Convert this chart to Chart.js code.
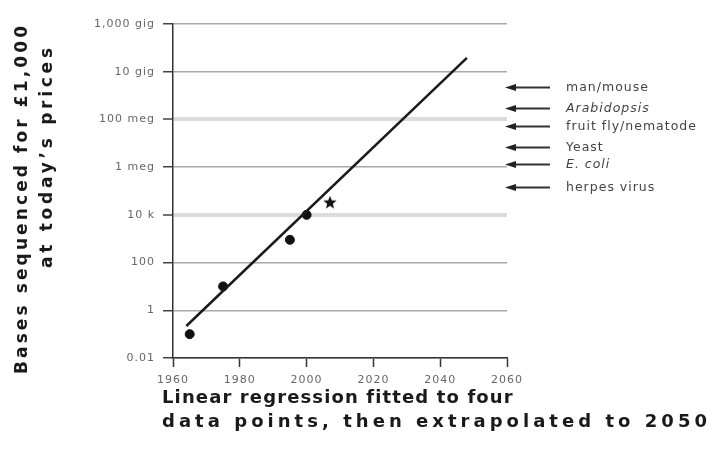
<!DOCTYPE html>
<html lang="en">
<head>
<meta charset="UTF-8">
<title>Sequencing cost trend</title>
<script src="https://cdn.jsdelivr.net/npm/chart.js"></script>
<style>
    html, body { margin: 0; padding: 0; background: #fff; }
    .wrap { width: 718px; height: 465px; position: relative; }
</style>
</head>
<body>
<div class="wrap"><canvas id="chart"></canvas></div>
<script>
// measured points (year, bases per £1,000)
const dotYears = [1965, 1975, 1995, 2000];
const dotValues = [0.1, 10, 900, 10000];
const starYears = [2007];
const starValues = [32000];
// regression line end points
const fitYears = [1964, 2048];
const fitValues = [0.22, 38000000000];

// y axis ticks
const yTickValues = [0.01, 1, 100, 1e4, 1e6, 1e8, 1e10, 1e12];
const yTickLabels = ['0.01', '1', '100', '10 k', '1 meg', '100 meg', '10 gig', '1,000 gig'];
const xTickStart = 1960, xTickEnd = 2060, xTickStep = 20;

// genome size markers on the right
const genomeNames = ['man/mouse', 'Arabidopsis', 'fruit fly/nematode', 'Yeast', 'E. coli', 'herpes virus'];
const genomeSizes = [2.3e9, 2.9e8, 5.2e7, 7e6, 1.3e6, 1.5e5];
const genomeItalic = [false, true, false, false, true, false];

const yTitle = ['Bases sequenced for \u00a31,000', 'at today\u2019s prices'];
const xTitle = ['Linear regression fitted to four', 'data points, then extrapolated to 2050'];

// filled star marker
function makeStar(r) {
    const c = document.createElement('canvas');
    c.width = c.height = r * 2 + 2;
    const g = c.getContext('2d');
    g.fillStyle = '#111';
    g.beginPath();
    for (let i = 0; i < 10; i++) {
        const rad = i % 2 === 0 ? r : r * 0.42;
        const a = -Math.PI / 2 + i * Math.PI / 5;
        const px = r + 1 + rad * Math.cos(a), py = r + 1 + rad * Math.sin(a);
        if (i === 0) g.moveTo(px, py); else g.lineTo(px, py);
    }
    g.closePath();
    g.fill();
    return c;
}

// draw text stretched to a given width with letter spacing
function spacedText(ctx, text, x, y, width, align) {
    ctx.letterSpacing = '0px';
    const w = ctx.measureText(text).width;
    const sp = (width - w) / (text.length - 1);
    ctx.letterSpacing = sp + 'px';
    ctx.textAlign = 'left';
    const start = align === 'center' ? x - width / 2 : x;
    ctx.fillText(text, start, y);
    ctx.letterSpacing = '0px';
}

const extras = {
    id: 'extras',
    beforeDraw(chart) {
        chart.ctx.letterSpacing = '1px';
    },
    afterDraw(chart) {
        const ctx = chart.ctx;
        const y = chart.scales.y;
        ctx.save();
        ctx.letterSpacing = '0px';

        // arrows and genome labels
        genomeSizes.forEach((v, i) => {
            const py = Math.round(y.getPixelForValue(v)) + 0.5;
            ctx.strokeStyle = '#333';
            ctx.lineWidth = 2;
            ctx.beginPath();
            ctx.moveTo(511, py);
            ctx.lineTo(550, py);
            ctx.stroke();
            ctx.fillStyle = '#222';
            ctx.beginPath();
            ctx.moveTo(505, py);
            ctx.lineTo(516, py - 3.5);
            ctx.lineTo(516, py + 3.5);
            ctx.closePath();
            ctx.fill();
            ctx.fillStyle = '#444';
            ctx.font = (genomeItalic[i] ? 'italic ' : '') + '12.5px "DejaVu Sans"';
            ctx.textBaseline = 'middle';
            ctx.textAlign = 'left';
            ctx.letterSpacing = '1px';
            ctx.fillText(genomeNames[i], 566, py);
            ctx.letterSpacing = '0px';
        });

        // y axis title, rotated
        ctx.fillStyle = '#1a1a1a';
        ctx.font = 'bold 17px "DejaVu Sans"';
        ctx.textBaseline = 'middle';
        ctx.save();
        ctx.translate(23, 200);
        ctx.rotate(-Math.PI / 2);
        spacedText(ctx, yTitle[0], 0, 0, 348, 'center');
        ctx.restore();
        ctx.save();
        ctx.translate(48, 158);
        ctx.rotate(-Math.PI / 2);
        spacedText(ctx, yTitle[1], 0, 0, 220, 'center');
        ctx.restore();

        // x axis title
        ctx.font = 'bold 18px "DejaVu Sans"';
        spacedText(ctx, xTitle[0], 162, 398, 350, 'left');
        spacedText(ctx, xTitle[1], 162, 422, 545, 'left');
        ctx.restore();
    }
};

const thick = [1e4, 1e8];

new Chart(document.getElementById('chart'), {
    type: 'scatter',
    data: {
        datasets: [
            {
                label: 'fit',
                data: fitYears.map((yr, i) => ({ x: yr, y: fitValues[i] })),
                showLine: true,
                borderColor: '#1a1a1a',
                borderWidth: 2.5,
                pointRadius: 0
            },
            {
                label: 'points',
                data: dotYears.map((yr, i) => ({ x: yr, y: dotValues[i] })),
                backgroundColor: '#111',
                borderColor: '#111',
                pointRadius: 4.5
            },
            {
                label: 'latest',
                data: starYears.map((yr, i) => ({ x: yr, y: starValues[i] })),
                pointStyle: makeStar(7)
            }
        ]
    },
    options: {
        responsive: true,
        maintainAspectRatio: false,
        devicePixelRatio: 1,
        animation: false,
        layout: { padding: { left: 0, right: 211, top: 24, bottom: 0 } },
        plugins: { legend: { display: false }, tooltip: { enabled: false } },
        scales: {
            x: {
                type: 'linear',
                min: xTickStart,
                max: xTickEnd,
                afterFit: s => { s.height = 107; },
                ticks: {
                    stepSize: xTickStep,
                    color: '#666',
                    font: { family: 'DejaVu Sans', size: 11 },
                    padding: 7,
                    maxRotation: 0,
                    callback: v => String(v)
                },
                grid: { drawOnChartArea: false, tickLength: 9, tickColor: '#333', tickWidth: 1.5 },
                border: { color: '#333', width: 1.5 }
            },
            y: {
                type: 'logarithmic',
                min: yTickValues[0],
                max: yTickValues[yTickValues.length - 1],
                afterFit: s => { s.width = 173; },
                afterBuildTicks: s => { s.ticks = yTickValues.map(v => ({ value: v })); },
                ticks: {
                    color: '#666',
                    font: { family: 'DejaVu Sans', size: 11 },
                    padding: 8,
                    callback: v => yTickLabels[yTickValues.indexOf(v)]
                },
                grid: {
                    color: c => thick.includes(c.tick && c.tick.value) ? '#dcdcdc' : '#a8a8a8',
                    lineWidth: c => thick.includes(c.tick && c.tick.value) ? 4 : 1.5,
                    tickLength: 10,
                    tickColor: '#444',
                    tickWidth: 1.5
                },
                border: { color: '#333', width: 1.5 }
            }
        }
    },
    plugins: [extras]
});
</script>
</body>
</html>
